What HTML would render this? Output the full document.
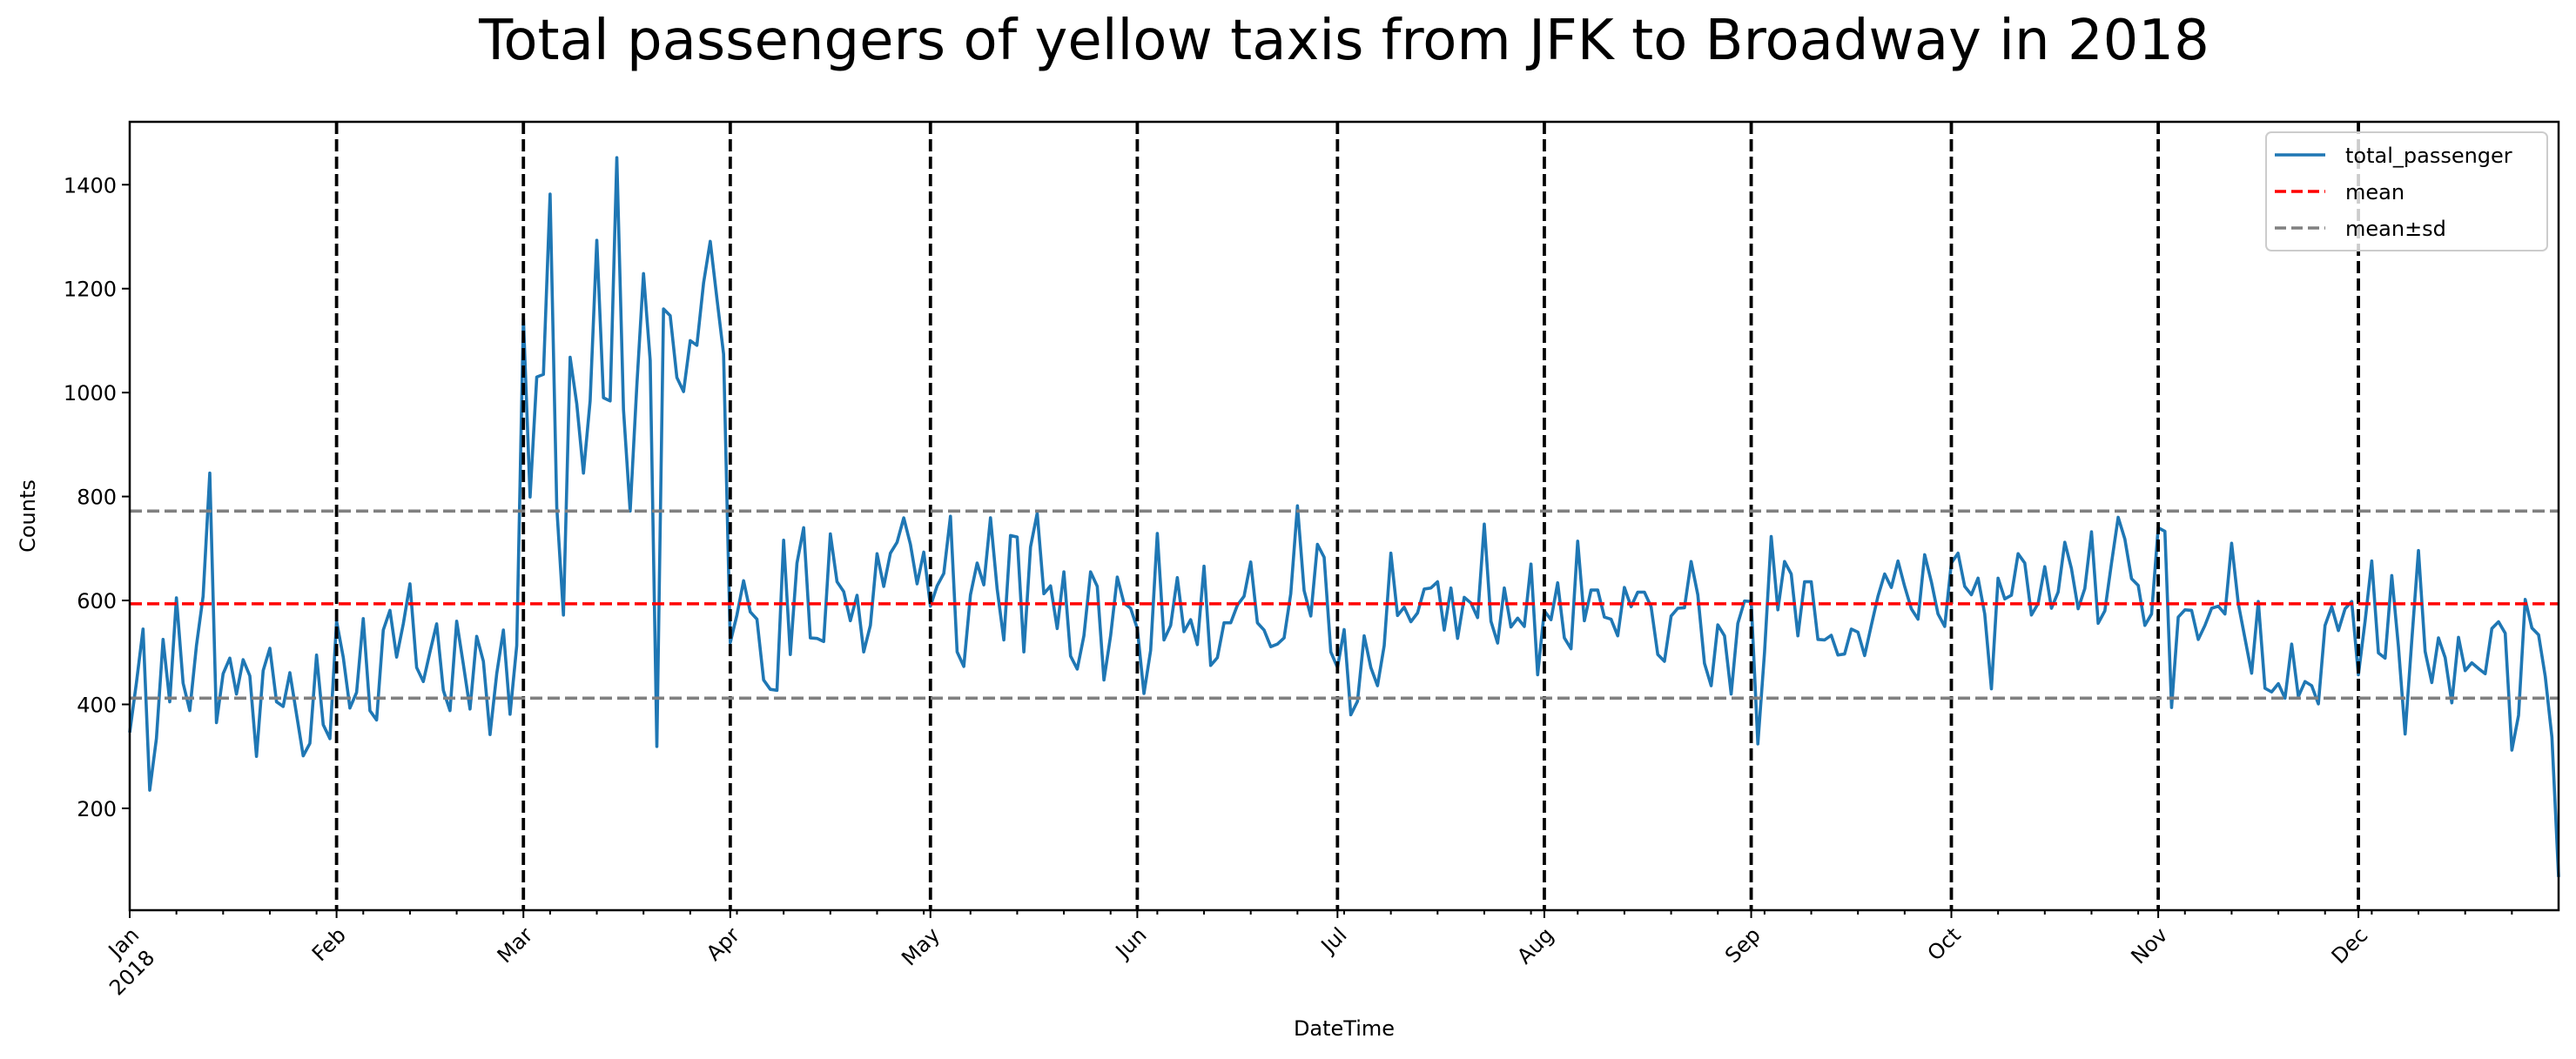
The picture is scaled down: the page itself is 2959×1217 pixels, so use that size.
<!DOCTYPE html>
<html><head><meta charset="utf-8"><style>
html,body{margin:0;padding:0;background:#fff;}
svg{display:block;font-family:"DejaVu Sans","Liberation Sans",sans-serif;}
</style></head><body>
<svg id="chart" width="2959" height="1217" viewBox="0 0 2959 1217" xmlns="http://www.w3.org/2000/svg">
<rect x="0" y="0" width="2959" height="1217" fill="#fff"/>
<text x="1544" y="68" font-size="64" text-anchor="middle" fill="#000">Total passengers of yellow taxis from JFK to Broadway in 2018</text>
<g id="grid"></g>
<g id="series"></g>
<g id="refs"></g>
<rect x="149" y="140" width="2790" height="906" fill="none" stroke="#000" stroke-width="2.5"/>
<g id="axes"></g>
<text x="0" y="0" font-size="24" text-anchor="middle" transform="translate(40,593) rotate(-90)">Counts</text>
<text x="1544" y="1190" font-size="24" text-anchor="middle">DateTime</text>
<g>
<rect x="2603" y="152" width="323" height="136" rx="6" fill="#fff" fill-opacity="0.8" stroke="#ccc" stroke-width="2"/>
<line x1="2613" y1="178" x2="2671" y2="178" stroke="#1f77b4" stroke-width="3.5"/>
<text x="2694" y="187" font-size="24">total_passenger</text>
<line x1="2613" y1="220" x2="2671" y2="220" stroke="#ff0000" stroke-width="3.5" stroke-dasharray="13,6"/>
<text x="2694" y="229" font-size="24">mean</text>
<line x1="2613" y1="262" x2="2671" y2="262" stroke="#808080" stroke-width="3.5" stroke-dasharray="13,6"/>
<text x="2694" y="271" font-size="24">mean±sd</text>
</g>
</svg>
<script>
const values = [
346,441,545,235,334,525,405,605,441,388,513,608,845,365,459,489,420,486,455,300,465,508,405,396,461,381,301,325,495,361,334,
560,491,393,423,565,388,370,543,581,491,555,632,471,444,501,555,427,388,560,477,391,531,483,342,459,543,381,513,
1143,799,1030,1035,1382,780,572,1068,978,845,984,1293,990,984,1452,967,772,1014,1229,1062,319,1161,1148,1029,1002,1100,1091,1211,1291,1181,1074,
519,572,638,578,564,447,429,427,716,496,672,740,528,527,521,728,636,617,561,610,501,552,690,627,691,712,759,708,632,693,
589,628,652,762,501,473,611,672,630,759,622,524,725,722,501,703,768,613,628,546,655,493,468,532,655,627,447,532,645,595,585,
546,421,504,729,524,552,644,540,563,515,666,475,490,557,557,591,608,674,557,543,511,516,528,613,782,619,570,708,683,501,
471,544,380,406,532,471,436,513,691,571,587,559,576,622,624,636,543,624,527,606,595,567,747,560,518,624,549,566,550,670,457,
580,563,634,528,507,714,561,620,620,568,564,532,625,588,616,616,588,496,483,570,585,586,675,611,479,436,553,532,420,556,599,
598,324,500,723,582,675,651,532,636,636,525,524,533,495,497,545,539,494,552,608,651,625,676,627,584,564,688,636,574,550,
672,691,627,611,643,574,430,643,603,610,690,672,572,594,665,585,616,712,661,584,623,732,556,580,672,760,718,642,629,552,574,
740,733,394,568,582,581,525,552,585,589,574,710,594,527,460,598,431,424,440,412,516,415,444,436,401,552,588,542,584,598,
457,560,676,499,489,648,511,343,523,696,502,442,528,490,403,529,465,480,469,459,546,559,537,312,379,602,547,534,454,337,68
];
const monthLabels = ["Jan","Feb","Mar","Apr","May","Jun","Jul","Aug","Sep","Oct","Nov","Dec"];
const monthStartDays = [0,31,59,90,120,151,181,212,243,273,304,334];
const yTicks = [200,400,600,800,1000,1200,1400];
const meanValue = [593.6];
const sdBands = [412,772];

const X0=149, X1=2939, Y0=140, Y1=1046, DMAX=364, VMIN=4, VMAX=1521;
function xs(d){return X0+(d/DMAX)*(X1-X0);}
function ys(v){return Y1-(v-VMIN)/(VMAX-VMIN)*(Y1-Y0);}
const NS="http://www.w3.org/2000/svg";
function mk(tag,attrs,parent){const e=document.createElementNS(NS,tag);for(const k in attrs)e.setAttribute(k,attrs[k]);parent.appendChild(e);return e;}

const series=document.getElementById('series');
let dstr='';
values.forEach((v,i)=>{dstr+=(i?'L':'M')+xs(i).toFixed(2)+','+ys(v).toFixed(2);});
const line=mk('path',{d:dstr,fill:'none',stroke:'#1f77b4','stroke-width':3.6,'stroke-linejoin':'round'},series);



const refs=document.getElementById('refs');
monthStartDays.slice(1).forEach((d,i)=>{
  const l=mk('line',{x1:xs(d),x2:xs(d),y1:Y0,y2:Y1,stroke:'#000','stroke-width':3.8,'stroke-dasharray':'14,6'},refs);
  
  
});
const m=mk('line',{x1:X0,x2:X1,y1:ys(meanValue[0]),y2:ys(meanValue[0]),stroke:'#ff0000','stroke-width':3.6,'stroke-dasharray':'14,6'},refs);


sdBands.forEach((v,i)=>{
  const l=mk('line',{x1:X0,x2:X1,y1:ys(v),y2:ys(v),stroke:'#808080','stroke-width':3.6,'stroke-dasharray':'14,6'},refs);
  
  
});

const axes=document.getElementById('axes');
yTicks.forEach(v=>{
  const y=ys(v);
  const t=mk('line',{x1:X0-9,x2:X0,y1:y,y2:y,stroke:'#000','stroke-width':2},axes);
  
  
  const tx=mk('text',{x:X0-15,y:y+9,'font-size':24,'text-anchor':'end'},axes);
  tx.textContent=v;
  
  
});
for(let d=7;d<DMAX;d+=7){
  if(monthStartDays.includes(d))continue;
  const t=mk('line',{x1:xs(d),x2:xs(d),y1:Y1,y2:Y1+5,stroke:'#000','stroke-width':2},axes);
  
  
}
monthStartDays.forEach((d,i)=>{
  const x=xs(d);
  const t=mk('line',{x1:x,x2:x,y1:Y1,y2:Y1+9,stroke:'#000','stroke-width':2},axes);
  
  
  const tx=mk('text',{x:0,y:0,'font-size':24,'text-anchor':'end',transform:'translate('+(x+12)+','+(Y1+30)+') rotate(-45)'},axes);
  tx.textContent=monthLabels[i];
  
  
});
const yr=mk('text',{x:0,y:0,'font-size':24,'text-anchor':'end',transform:'translate('+(X0+30)+','+(Y1+56)+') rotate(-45)'},axes);
yr.textContent='2018';


</script>
</body></html>
